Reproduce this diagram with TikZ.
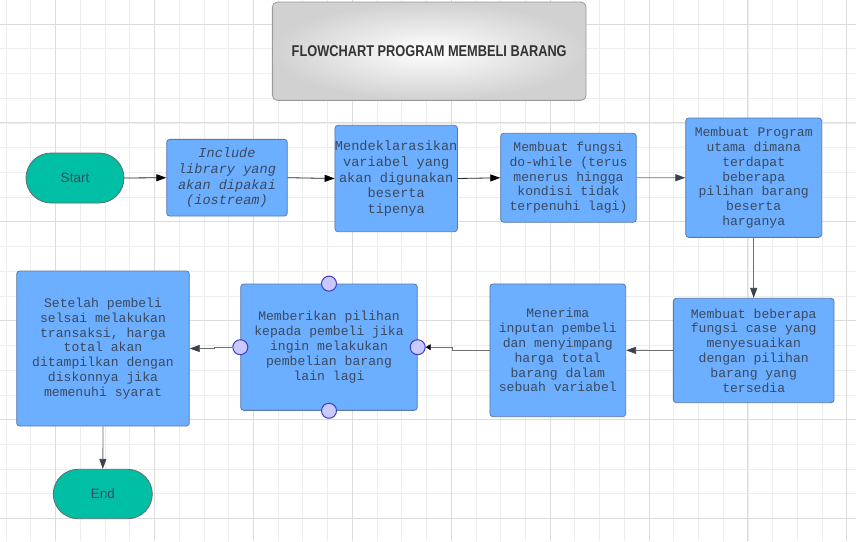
\documentclass[tikz,border=0pt]{standalone}
\usepackage{fontspec}
\setmainfont{Liberation Sans}
\setmonofont{Liberation Mono}
\newfontfamily\titlefont[FakeStretch=0.82]{Liberation Sans}
\usetikzlibrary{arrows.meta,shapes.misc}
\definecolor{gridlight}{HTML}{EDEDED}
\definecolor{griddark}{HTML}{DCDCDC}
\definecolor{boxblue}{HTML}{6CAEFF}
\definecolor{boxline}{HTML}{5A7AA6}
\definecolor{boxtext}{HTML}{3B4A5E}
\definecolor{termteal}{HTML}{00BFA5}
\definecolor{termline}{HTML}{5E6E6C}
\definecolor{handlefill}{HTML}{C9C8FF}
\definecolor{handleline}{HTML}{3F3FBF}
\definecolor{linkgray}{HTML}{6E6E6E}
\definecolor{arrowdark}{HTML}{39424E}
\begin{document}
\begin{tikzpicture}[x=1pt,y=-1pt,
    gridminor/.style={draw=gridlight,line width=0.8pt},
    gridmajor/.style={draw=griddark,line width=1pt},
    procbox/.style={rectangle,rounded corners=3pt,draw=boxline,fill=boxblue,line width=0.8pt,
      text=boxtext,align=center,inner sep=0pt,font=\ttfamily\fontsize{13.1}{14.8}\selectfont},
    bigtext/.style={font=\ttfamily\fontsize{13.6}{15.7}\selectfont},
    terminal/.style={rounded rectangle,draw=termline,fill=termteal,line width=0.8pt,
      text=boxtext,inner sep=0pt,font=\fontsize{13.5}{16}\selectfont},
    handle/.style={circle,draw=handleline,fill=handlefill,line width=1pt,minimum size=15pt,inner sep=0pt},
    darklink/.style={draw=black!85,line width=0.8pt,-{Triangle[length=10pt,width=7pt,color=black]}},
    link/.style={draw=linkgray,line width=0.8pt,-{Triangle[length=10pt,width=7pt,color=arrowdark]}}]
  \useasboundingbox[fill=white] (0,0) rectangle (856,541);

  % grid
  \foreach \i in {0,...,34} \draw[gridminor] ({6.15+24.725*\i},0) -- ++(0,541);
  \foreach \j in {0,...,21} \draw[gridminor] (0,{-0.7+24.725*\j}) -- ++(856,0);
  \foreach \i in {0,...,8} \draw[gridmajor] ({55.6+98.9*\i},0) -- ++(0,541);
  \foreach \j in {0,...,5} \draw[gridmajor] (0,{24+98.9*\j}) -- ++(856,0);

  % title
  \node (title) at (429.2,51.2)[rectangle,rounded corners=5pt,draw=black!40,line width=0.8pt,
    inner color=white,outer color=black!18,minimum width=313.7pt,minimum height=98.3pt,
    text=black!80,font=\titlefont\bfseries\fontsize{15.6}{18}\selectfont]{FLOWCHART PROGRAM MEMBELI BARANG};

  % top row
  \node (start) at (75,178)[terminal,minimum width=98pt,minimum height=50pt]{Start};
  \node (b1) at (227,177.7)[procbox,bigtext,minimum width=120.6pt,minimum height=76.7pt]
    {\itshape Include\\\itshape library yang\\\itshape akan dipakai\\\itshape (iostream)};
  \node (b2) at (396.2,178.5)[procbox,bigtext,minimum width=122.3pt,minimum height=106.4pt]
    {Mendeklarasikan\\variabel yang\\akan digunakan\\beserta\\tipenya};
  \node (b3) at (568.5,177.8)[procbox,minimum width=135.6pt,minimum height=89pt]
    {Membuat fungsi\\do-while (terus\\menerus hingga\\kondisi tidak\\terpenuhi lagi)};
  \node (b4) at (753.7,177.7)[procbox,minimum width=136pt,minimum height=119.3pt]
    {Membuat Program\\utama dimana\\terdapat\\beberapa\\pilihan barang\\beserta\\harganya};

  % bottom row
  \node (b5) at (753.7,350.5)[procbox,minimum width=160.7pt,minimum height=104.4pt]
    {Membuat beberapa\\fungsi case yang\\menyesuaikan\\dengan pilihan\\barang yang\\tersedia};
  \node (b6) at (557.8,350.3)[procbox,minimum width=135.7pt,minimum height=132.7pt]
    {Menerima\\inputan pembeli\\dan menyimpang\\harga total\\barang dalam\\sebuah variabel};
  \node (b7) at (329,347.2)[procbox,minimum width=176.6pt,minimum height=126.3pt]
    {Memberikan pilihan\\kepada pembeli jika\\ingin melakukan\\pembelian barang\\lain lagi};
  \node (b8) at (103,348.5)[procbox,minimum width=172.6pt,minimum height=155pt]
    {Setelah pembeli\\selsai melakukan\\transaksi, harga\\total akan\\ditampilkan dengan\\diskonnya jika\\memenuhi syarat};
  \node (end) at (102.8,494)[terminal,minimum width=99pt,minimum height=49.4pt]{End};

  \node (h7t) at (b7.north)[handle]{};
  \node (h7b) at (b7.south)[handle]{};
  \node (h7l) at (b7.west)[handle]{};
  \node (h7r) at (b7.east)[handle]{};

  % arrows
  \draw[darklink] (start.east) -- (b1.west);
  \draw[darklink] (b1.east) -- (b2.west);
  \draw[darklink] (b2.east) -- (b3.west);
  \draw[link] (b3.east) -- (b4.west);
  \draw[link] (b4.south) -- (b5.north);
  \draw[link] (b5.west) -- (b6.east);
  \draw[link,-{Triangle[length=5pt,width=6pt,color=black]}] (b6.west) -- ++(-37,0) |- (h7r.east);
  \draw[link] (h7l.west) -- ++(-18,0) |- (b8.east);
  \draw[link] (b8.south) -- (end.north);
\end{tikzpicture}
\end{document}
